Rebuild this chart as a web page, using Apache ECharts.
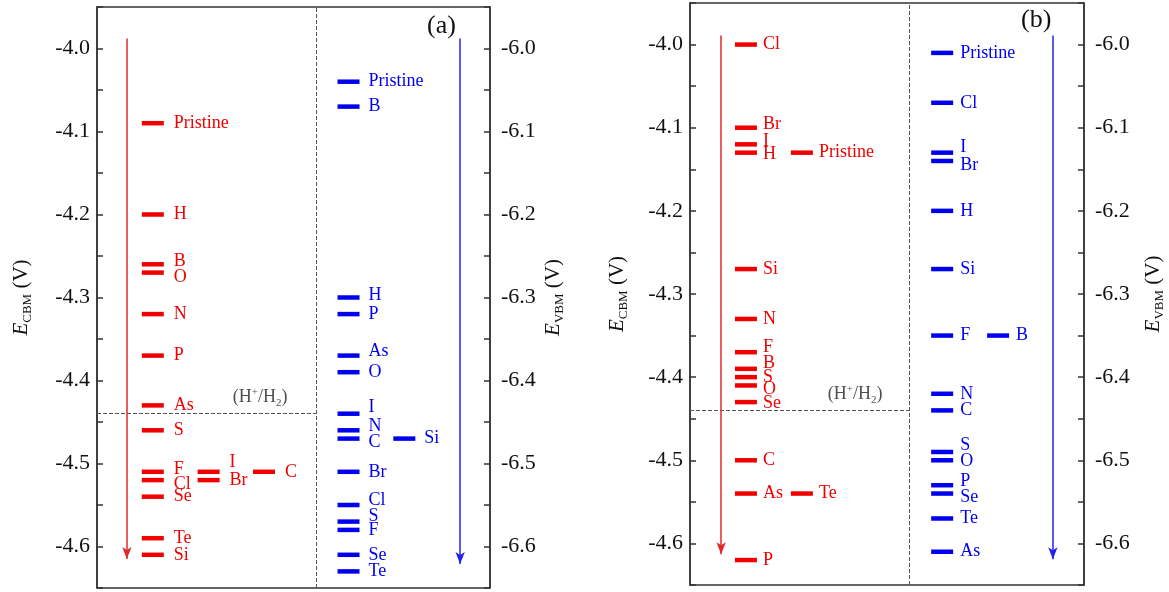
<!DOCTYPE html>
<html><head><meta charset="utf-8">
<script src="https://cdn.jsdelivr.net/npm/echarts@6/dist/echarts.min.js"></script>
<style>html,body{margin:0;padding:0;background:#fff}#c{width:1169px;height:592px}</style>
</head><body><div id="c"></div>
<script>
// ---------- data ----------
const aCbmNames  = ['Pristine','H','B','O','N','P','As','S','F','Cl','I','Br','C','Se','Te','Si'];
const aCbmValues = [-4.09,-4.20,-4.26,-4.27,-4.32,-4.37,-4.43,-4.46,-4.51,-4.52,-4.51,-4.52,-4.51,-4.54,-4.59,-4.61];
const aCbmColumn = [0,0,0,0,0,0,0,0,0,0,1,1,2,0,0,0];

const aVbmNames  = ['Pristine','B','H','P','As','O','I','N','C','Si','Br','Cl','S','F','Se','Te'];
const aVbmValues = [-6.04,-6.07,-6.30,-6.32,-6.37,-6.39,-6.44,-6.46,-6.47,-6.47,-6.51,-6.55,-6.57,-6.58,-6.61,-6.63];
const aVbmColumn = [0,0,0,0,0,0,0,0,0,1,0,0,0,0,0,0];

const bCbmNames  = ['Cl','Br','I','H','Pristine','Si','N','F','B','S','O','Se','C','As','Te','P'];
const bCbmValues = [-4.00,-4.10,-4.12,-4.13,-4.13,-4.27,-4.33,-4.37,-4.39,-4.40,-4.41,-4.43,-4.50,-4.54,-4.54,-4.62];
const bCbmColumn = [0,0,0,0,1,0,0,0,0,0,0,0,0,0,1,0];

const bVbmNames  = ['Pristine','Cl','I','Br','H','Si','F','B','N','C','S','O','P','Se','Te','As'];
const bVbmValues = [-6.01,-6.07,-6.13,-6.14,-6.20,-6.27,-6.35,-6.35,-6.42,-6.44,-6.49,-6.50,-6.53,-6.54,-6.57,-6.61];
const bVbmColumn = [0,0,0,0,0,0,0,1,0,0,0,0,0,0,0,0];

const hydrogenLevel = -4.44;
const cbmRange = [-4.65, -3.95];
const vbmRange = [-6.65, -5.95];
const tickStep = 0.05;
const panelTags = ['(a)', '(b)'];

// ---------- styling ----------
const RED = '#f00000', BLUE = '#0000f0', FONT = 'Liberation Serif';
const redCols = [14.2, 28.4, 42.5];
const blueCols = [64.0, 78.2];
const divX = 55.7;
const labelShift = {
  aCbm: {B:-3, O:5, F:-3, Cl:4, I:-10},
  aVbm: {H:-2, As:-4, I:-6, N:-4, C:4, Cl:-5, S:-5},
  bCbm: {Br:-3, I:-3, H:2, F:-5, B:-6, O:4, Se:1},
  bVbm: {I:-5, Br:4, S:-7, O:1, P:-4, Se:4}
};

function pts(names, vals, cols, xs, shift) {
  return names.map((n, i) => ({
    name: n, value: [xs[cols[i]], vals[i]],
    label: {offset: [0, shift[n] || 0]}
  }));
}
const fmt = v => Math.abs(Math.round(v * 10) - v * 10) < 1e-6 ? v.toFixed(1) : '';
function yAx(grid, range, pos, name, gap) {
  return {
    type: 'value', gridIndex: grid, position: pos, min: range[0], max: range[1], interval: tickStep,
    axisLine: {show: true, onZero: false, lineStyle: {color: '#333', width: 1.5}},
    axisTick: {show: true, inside: true, length: 6, lineStyle: {color: '#333', width: 1.5}},
    axisLabel: {formatter: fmt, fontSize: 22, fontFamily: FONT, color: '#111', margin: pos === 'left' ? 7 : 11},
    splitLine: {show: false},
    name: name, nameLocation: 'middle', nameGap: gap, nameRotate: 90,
    nameTextStyle: {
      color: '#111', fontFamily: FONT,
      rich: {
        i: {fontStyle: 'italic', fontSize: 21, fontFamily: FONT, color: '#111', verticalAlign: 'middle', lineHeight: 26},
        s: {fontSize: 13, fontFamily: FONT, color: '#111', verticalAlign: 'bottom', lineHeight: 26},
        n: {fontSize: 21, fontFamily: FONT, color: '#111', verticalAlign: 'middle', lineHeight: 26}
      }
    }
  };
}
function levelSeries(grid, yIdx, data, color, dist) {
  return {
    type: 'scatter', xAxisIndex: grid, yAxisIndex: yIdx, data: data,
    symbol: 'rect', symbolSize: [22, 4.5], itemStyle: {color: color, opacity: 1},
    label: {show: true, position: 'right', distance: dist, formatter: '{b}', color: color, fontSize: 18, fontFamily: FONT},
    z: 5
  };
}
function arrow(x, y0, y1, color) {
  return [{coord: [x, y0], symbol: 'none', lineStyle: {color: color, width: 1.5, type: 'solid'}},
          {coord: [x, y1], symbol: 'arrow', symbolSize: [7, 12]}];
}
function decoSeries(grid, yIdx, lines) {
  return {
    type: 'scatter', xAxisIndex: grid, yAxisIndex: yIdx, data: [], silent: true,
    markLine: {silent: true, animation: false, symbol: 'none', label: {show: false}, data: lines}
  };
}
const dashed = {type: 'dashed', color: '#555', width: 1};
function hLabel(grid, x) {
  return {
    type: 'scatter', xAxisIndex: grid, yAxisIndex: grid * 2, silent: true,
    symbolSize: 0, data: [[x, hydrogenLevel]],
    label: {
      show: true, position: 'top', distance: 5, color: '#222', fontSize: 18, fontFamily: FONT,
      formatter: '(H{sup|+}/H{sub|2})',
      rich: {
        sup: {fontSize: 11, fontFamily: FONT, color: '#222', verticalAlign: 'top', lineHeight: 22},
        sub: {fontSize: 11, fontFamily: FONT, color: '#222', verticalAlign: 'bottom', lineHeight: 22}
      }
    }
  };
}

const option = {
  animation: false,
  backgroundColor: '#fff',
  title: [
    {text: panelTags[0], left: 422, top: 8, textStyle: {fontSize: 26, fontWeight: 'normal', fontFamily: FONT, color: '#111'}},
    {text: panelTags[1], left: 1016, top: 2, textStyle: {fontSize: 26, fontWeight: 'normal', fontFamily: FONT, color: '#111'}}
  ],
  grid: [
    {left: 97, top: 7, width: 393, height: 581, show: true, borderColor: '#333', borderWidth: 1.5, containLabel: false},
    {left: 690, top: 3, width: 394, height: 582, show: true, borderColor: '#333', borderWidth: 1.5, containLabel: false}
  ],
  xAxis: [
    {type: 'value', gridIndex: 0, min: 0, max: 100, show: false},
    {type: 'value', gridIndex: 1, min: 0, max: 100, show: false}
  ],
  yAxis: [
    yAx(0, cbmRange, 'left', '{i|E}{s|CBM}{n| (V)}', 63),
    yAx(0, vbmRange, 'right', '{i|E}{s|VBM}{n| (V)}', 50),
    yAx(1, cbmRange, 'left', '{i|E}{s|CBM}{n| (V)}', 60),
    yAx(1, vbmRange, 'right', '{i|E}{s|VBM}{n| (V)}', 56)
  ],
  series: [
    decoSeries(0, 0, [
      {xAxis: divX, lineStyle: dashed},
      [{coord: [0, hydrogenLevel], lineStyle: dashed}, {coord: [divX, hydrogenLevel]}],
      arrow(7.6, -3.988, -4.615, '#e02828'),
      arrow(92.4, -3.988, -4.621, '#2222f0')
    ]),
    levelSeries(0, 0, pts(aCbmNames, aCbmValues, aCbmColumn, redCols, labelShift.aCbm), RED, 10),
    levelSeries(0, 1, pts(aVbmNames, aVbmValues, aVbmColumn, blueCols, labelShift.aVbm), BLUE, 9),
    hLabel(0, 41.5),
    decoSeries(1, 2, [
      {xAxis: divX, lineStyle: dashed},
      [{coord: [0, hydrogenLevel], lineStyle: dashed}, {coord: [divX, hydrogenLevel]}],
      arrow(7.9, -3.989, -4.613, '#e02828'),
      arrow(92.1, -3.989, -4.619, '#2222f0')
    ]),
    levelSeries(1, 2, pts(bCbmNames, bCbmValues, bCbmColumn, redCols, labelShift.bCbm), RED, 6),
    levelSeries(1, 3, pts(bVbmNames, bVbmValues, bVbmColumn, blueCols, labelShift.bVbm), BLUE, 7),
    hLabel(1, 41.9)
  ]
};
echarts.init(document.getElementById('c'), null, {renderer: 'canvas'}).setOption(option);
</script></body></html>
